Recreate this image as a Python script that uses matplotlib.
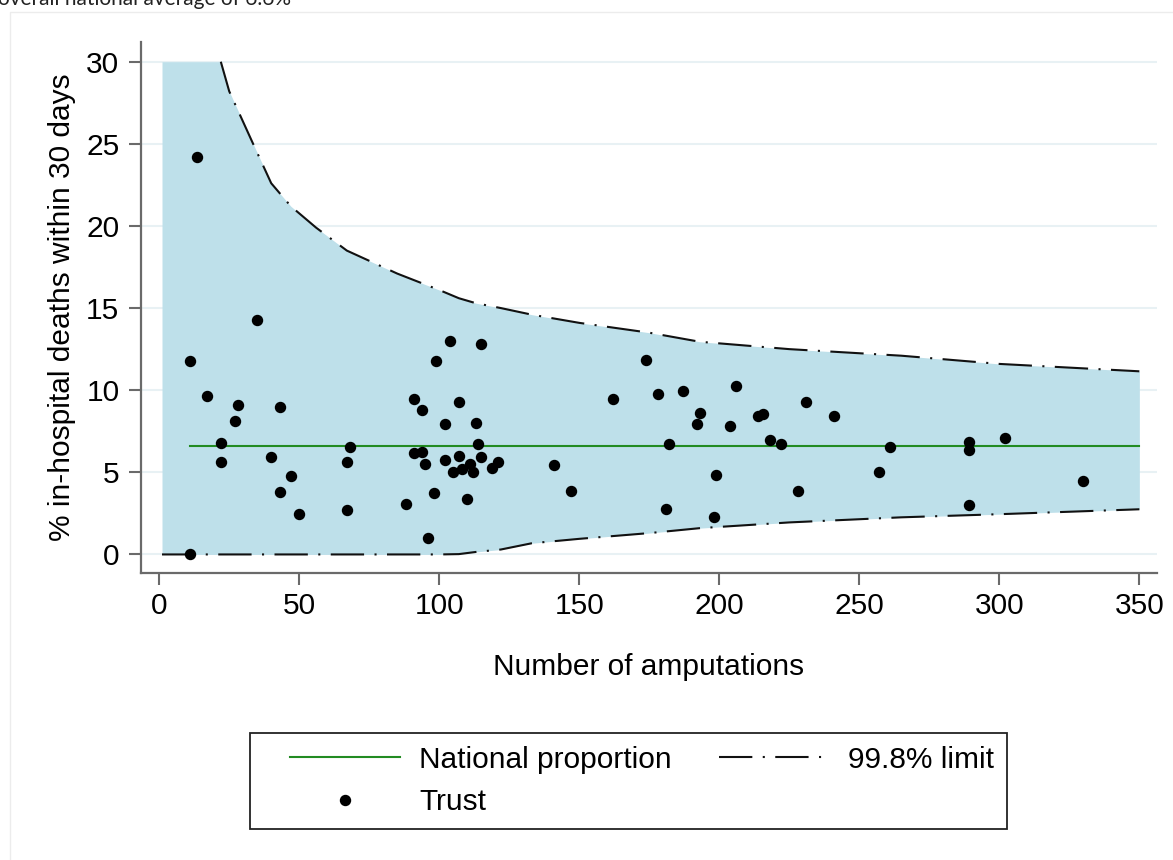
import matplotlib
matplotlib.use('Agg')
import matplotlib.pyplot as plt
from matplotlib.lines import Line2D
from matplotlib.legend_handler import HandlerLine2D
from matplotlib.patches import Rectangle

plt.rcParams['font.family'] = ['Liberation Sans', 'DejaVu Sans']

# ---------------- data ----------------
trust_n = [11, 13.4, 35, 17, 28, 27, 43, 22, 22, 40, 47, 43, 50, 11,
           68, 67, 67, 88, 91, 94, 99, 104, 115, 107, 102, 113, 91, 94,
           95, 102, 107, 114, 115, 105, 108, 111, 112, 119, 121, 98, 110, 96,
           141, 147, 162, 174, 178, 187, 193, 192, 182, 181, 199, 198, 204,
           206, 214, 215.5, 218, 222, 228, 231, 241, 257, 261,
           289, 289, 289, 302, 330]
trust_pct = [11.8, 24.2, 14.3, 9.64, 9.11, 8.1, 8.97, 6.76, 5.65, 5.91, 4.75, 3.8, 2.46, 0.0,
             6.56, 5.65, 2.71, 3.05, 9.46, 8.79, 11.75, 12.97, 12.8, 9.3, 7.94, 7.98, 6.16, 6.22,
             5.49, 5.73, 6.01, 6.7, 5.95, 5.0, 5.18, 5.52, 5.04, 5.28, 5.63, 3.72, 3.38, 0.98,
             5.46, 3.84, 9.46, 11.83, 9.76, 9.97, 8.63, 7.92, 6.74, 2.75, 4.86, 2.28, 7.82,
             10.27, 8.42, 8.55, 6.98, 6.7, 3.84, 9.3, 8.4, 5.0, 6.56,
             6.82, 6.36, 2.99, 7.07, 4.45]

national_pct = 6.6
national_n = [11, 350]

limit_n = [1, 22, 25, 33, 40, 47, 56, 67, 85, 100, 107, 113, 122, 133, 150,
           175, 193, 225, 265, 300, 350]
upper_pct = [30, 30, 28.2, 25.2, 22.6, 21.2, 19.9, 18.5, 17.1, 16.1, 15.6, 15.3, 15.0, 14.6, 14.1,
             13.5, 12.95, 12.5, 12.1, 11.6, 11.15]
lower_pct = [0, 0, 0, 0, 0, 0, 0, 0, 0, 0, 0.02, 0.15, 0.3, 0.68, 0.95,
             1.3, 1.6, 1.95, 2.26, 2.45, 2.75]

x_ticks = [0, 50, 100, 150, 200, 250, 300, 350]
y_ticks = [0, 5, 10, 15, 20, 25, 30]

# ---------------- figure ----------------
W, H = 1173, 860
fig = plt.figure(figsize=(W / 100, H / 100), dpi=100)
fig.patch.set_facecolor('white')

# outer Stata-like graph region frame
fig.add_artist(Rectangle((10 / W, -0.1), 1.2, 1 - 12 / H + 0.1,
                         transform=fig.transFigure, fill=False,
                         edgecolor='#ececec', lw=1.0))

# caption text cut off at the very top (as in the source page)
fig.text(-2 / W, 1 - 5 / H, 'overall national average of 6.6%',
         fontsize=15, family=['Lato', 'DejaVu Sans'], va='baseline', ha='left',
         color='#222222')

ax = fig.add_axes([141 / W, 1 - 573 / H, (1157 - 141) / W, (573 - 42) / H])

FS = 21.5
fill_color = '#bee0ea'
dash_style = (0, (16, 5, 1, 5))

ax.fill_between(limit_n, lower_pct, upper_pct, color=fill_color, lw=0, zorder=1)

# upper limit line only where it is inside the 0-30 range
start = limit_n.index(22)
ax.plot(limit_n[start:], upper_pct[start:], color='#111111', lw=1.5,
        linestyle=dash_style, zorder=2)
ax.plot(limit_n, lower_pct, color='#111111', lw=1.5, linestyle=dash_style, zorder=2)

ax.plot(national_n, [national_pct, national_pct], color='#228B22', lw=1.5, zorder=3)

ax.plot(trust_n, trust_pct, linestyle='none', marker='o', markersize=7.2,
        color='black', zorder=4)

ax.set_xlim(-6.5, 356.3)
ax.set_ylim(-1.13, 31.2)
ax.set_xticks(x_ticks)
ax.set_yticks(y_ticks)

ax.yaxis.grid(True, color='#e8f1f4', lw=1.5)
ax.xaxis.grid(False)
ax.set_axisbelow(True)

for s in ['top', 'right']:
    ax.spines[s].set_visible(False)
for s in ['left', 'bottom']:
    ax.spines[s].set_color('#6a6a6a')
    ax.spines[s].set_linewidth(1.6)

ax.tick_params(axis='both', direction='out', length=8.5, width=1.5,
               color='#6a6a6a', labelsize=FS, labelcolor='black')
ax.tick_params(axis='y', pad=7)
ax.tick_params(axis='x', pad=5.5)

ax.set_xlabel('Number of amputations', fontsize=FS, va='center')
ax.set_ylabel('% in-hospital deaths within 30 days', fontsize=FS, va='center')
ax.xaxis.set_label_coords(0.5, (573 - 667) / (573 - 42))
ax.yaxis.set_label_coords((62 - 141) / (1157 - 141), 0.5)

# ---------------- legend ----------------
h_nat = Line2D([], [], color='#228B22', lw=1.5)
h_trust = Line2D([], [], linestyle='none', marker='o', markersize=7.2, color='black')
h_lim = Line2D([], [], color='#111111', lw=1.5, linestyle=dash_style)

xp = 0.93
leg = fig.legend([h_nat, h_trust, h_lim],
                 ['National proportion', 'Trust', '99.8% limit'],
                 ncol=2, loc='upper left',
                 bbox_to_anchor=(250 / W, 1 - 733 / H),
                 bbox_transform=fig.transFigure, borderaxespad=0,
                 fontsize=FS, handlelength=4.6, handletextpad=0.65,
                 columnspacing=0.65, borderpad=0.42, labelspacing=0.5,
                 numpoints=1, fancybox=False, framealpha=1,
                 handler_map={h_nat: HandlerLine2D(xpad=xp),
                              h_trust: HandlerLine2D(xpad=xp),
                              h_lim: HandlerLine2D(xpad=xp)})
leg.get_frame().set_edgecolor('#222222')
leg.get_frame().set_linewidth(1.3)

fig.savefig('out.png', dpi=100)
